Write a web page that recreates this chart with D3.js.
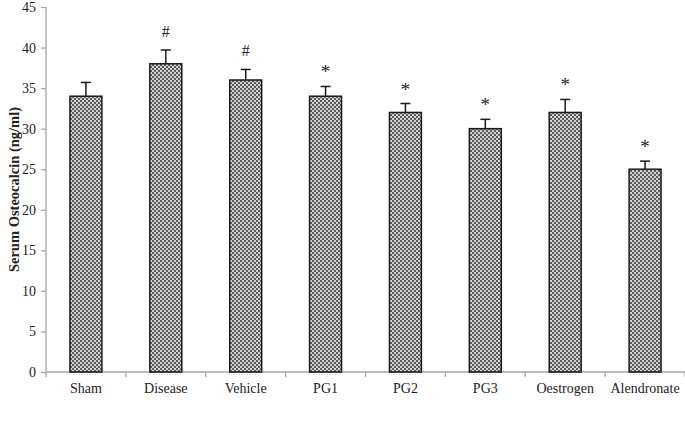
<!DOCTYPE html>
<html><head><meta charset="utf-8">
<script src="https://cdn.jsdelivr.net/npm/d3@7"></script>
<style>body{margin:0;background:#fff}svg{display:block}</style>
</head><body>
<script>
const categories = ["Sham","Disease","Vehicle","PG1","PG2","PG3","Oestrogen","Alendronate"];
const values = [34, 38, 36, 34, 32, 30, 32, 25];
const errors = [1.7, 1.7, 1.3, 1.2, 1.1, 1.15, 1.6, 1.0];
const marks = ["", "#", "#", "*", "*", "*", "*", "*"];
const yTicks = [0,5,10,15,20,25,30,35,40,45];

const W = 685, H = 426;
const m = {left: 46, right: 0, top: 7, bottom: 54};
const svg = d3.select("body").append("svg").attr("width", W).attr("height", H);
const defs = svg.append("defs");
const pat = defs.append("pattern").attr("id","chk").attr("patternUnits","userSpaceOnUse")
  .attr("width",4).attr("height",4);
pat.append("rect").attr("width",4).attr("height",4).attr("fill","#d2d2d2");
pat.append("rect").attr("x",0).attr("y",0).attr("width",2).attr("height",2).attr("fill","#5c5c5c");
pat.append("rect").attr("x",2).attr("y",2).attr("width",2).attr("height",2).attr("fill","#5c5c5c");

const x = d3.scaleBand().domain(categories).range([m.left, W - m.right]).paddingInner(0.6).paddingOuter(0.3);
const y = d3.scaleLinear().domain([0,45]).range([H - m.bottom, m.top]);
const font = "'Liberation Serif', 'DejaVu Serif', serif";

// y axis
const yAxis = svg.append("g").attr("transform",`translate(${m.left},0)`)
  .call(d3.axisLeft(y).tickValues(yTicks).tickSize(5).tickPadding(5));
yAxis.select(".domain").attr("stroke","#a6a6a6").attr("stroke-width",1.3).attr("d",`M0,${y(45)}V${y(0)}`);
yAxis.selectAll(".tick line").attr("stroke","#a6a6a6").attr("stroke-width",1.3);
yAxis.selectAll(".tick text").attr("font-family",font).attr("font-size",14).attr("fill","#222");

// x axis
const xg = svg.append("g").attr("transform",`translate(0,${y(0)})`);
xg.append("line").attr("x1",m.left).attr("x2",W).attr("stroke","#a6a6a6").attr("stroke-width",1.3);
d3.range(categories.length + 1).forEach(i => {
  const xx = m.left + i * ((W - m.left) / categories.length);
  xg.append("line").attr("x1",xx).attr("x2",xx).attr("y1",0).attr("y2",5).attr("stroke","#a6a6a6").attr("stroke-width",1.3);
});
xg.selectAll("text.cat").data(categories).join("text").attr("class","cat")
  .attr("x", d => x(d) + x.bandwidth()/2).attr("y", 21)
  .attr("text-anchor","middle").attr("font-family",font).attr("font-size",14).attr("fill","#222")
  .text(d => d);

// bars
const data = categories.map((c,i) => ({c, v: values[i], e: errors[i], s: marks[i]}));
svg.selectAll("rect.bar").data(data).join("rect").attr("class","bar")
  .attr("x", d => x(d.c)).attr("y", d => y(d.v))
  .attr("width", x.bandwidth()).attr("height", d => y(0) - y(d.v))
  .attr("fill","url(#chk)").attr("stroke","#1a1a1a").attr("stroke-width",1.5);

// error bars
const eg = svg.append("g").attr("stroke","#1a1a1a").attr("stroke-width",1.5);
data.forEach(d => {
  const cx = x(d.c) + x.bandwidth()/2;
  eg.append("line").attr("x1",cx).attr("x2",cx).attr("y1",y(d.v)).attr("y2",y(d.v + d.e));
  eg.append("line").attr("x1",cx-5).attr("x2",cx+5).attr("y1",y(d.v + d.e)).attr("y2",y(d.v + d.e));
});

// significance marks
svg.selectAll("text.sig").data(data.filter(d => d.s)).join("text").attr("class","sig")
  .attr("x", d => x(d.c) + x.bandwidth()/2)
  .attr("y", d => y(d.v + d.e) - (d.s === "#" ? 13 : 8))
  .attr("text-anchor","middle").attr("font-family",font)
  .attr("font-size", d => d.s === "#" ? 16 : 19).attr("fill","#222")
  .text(d => d.s);

// y label
svg.append("text").attr("transform",`translate(19,${(y(0)+y(45))/2}) rotate(-90)`)
  .attr("text-anchor","middle").attr("font-family",font).attr("font-weight","bold")
  .attr("font-size",14.5).attr("fill","#222").text("Serum Osteocalcin (ng/ml)");
</script>
</body></html>
